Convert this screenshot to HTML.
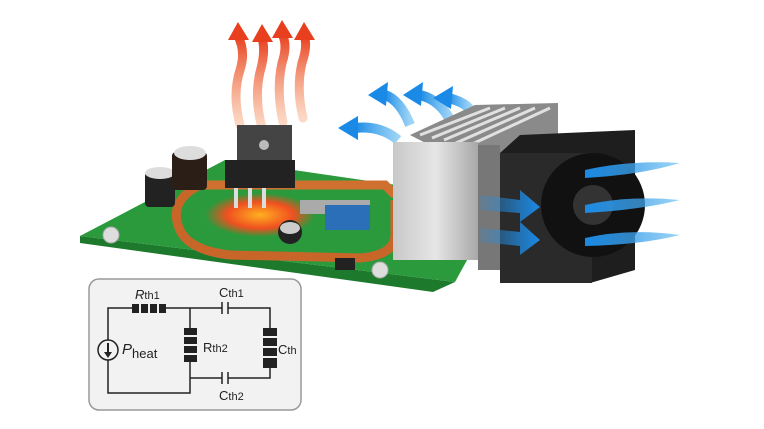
<!DOCTYPE html>
<html><head><meta charset="utf-8"><style>
html,body{margin:0;padding:0;background:#fff;}
svg{display:block;font-family:"Liberation Sans",sans-serif;}
</style></head><body>
<svg width="764" height="429" viewBox="0 0 764 429" xmlns="http://www.w3.org/2000/svg">
<defs>
<linearGradient id="hs" x1="0" x2="1"><stop offset="0" stop-color="#c8c8c8"/><stop offset=".5" stop-color="#e6e6e6"/><stop offset="1" stop-color="#a8a8a8"/></linearGradient>
<linearGradient id="bl" x1="0" x2="1"><stop offset="0" stop-color="#2a8fe0" stop-opacity=".2"/><stop offset="1" stop-color="#1a8ae6"/></linearGradient>
<linearGradient id="br" x1="0" x2="1"><stop offset="0" stop-color="#1a8ae6"/><stop offset="1" stop-color="#5ab6f0" stop-opacity=".6"/></linearGradient>
<linearGradient id="rd" x1="0" y1="1" x2="0" y2="0"><stop offset="0" stop-color="#f7a070" stop-opacity=".4"/><stop offset="1" stop-color="#e8401e"/></linearGradient>
<radialGradient id="hot" cx=".5" cy=".5" r=".5"><stop offset="0" stop-color="#ffb020"/><stop offset=".6" stop-color="#f05020"/><stop offset="1" stop-color="#f05020" stop-opacity="0"/></radialGradient>
</defs>
<!-- red heat arrows -->
<g fill="none" stroke="url(#rd)" stroke-width="9" stroke-linecap="round">
<path d="M240 125 Q232 95 240 70 Q246 52 238 36"/>
<path d="M262 128 Q254 98 260 72 Q266 52 262 38"/>
<path d="M283 122 Q276 90 282 63 Q288 45 282 34"/>
<path d="M303 118 Q296 88 302 63 Q308 45 304 36"/>
</g>
<g fill="#e8401e"><path d="M228 40 L238 22 L249 40Z"/><path d="M252 42 L262 24 L273 42Z"/><path d="M272 38 L282 20 L293 38Z"/><path d="M294 40 L304 22 L315 40Z"/></g>
<!-- blue arrows left -->
<g fill="none" stroke="url(#br)" stroke-width="10">
<path d="M385 95 Q400 100 410 125"/><path d="M420 95 Q440 100 450 120"/><path d="M448 98 Q465 102 470 110"/>
<path d="M355 128 Q380 125 398 140"/>
</g>
<g fill="#1a8ae6"><path d="M368 95 L388 82 L386 106Z"/><path d="M403 95 L423 82 L421 106Z"/><path d="M433 98 L453 86 L451 109Z"/><path d="M338 128 L358 116 L358 140Z"/></g>
<!-- PCB -->
<polygon points="80,243 433,292 455,282 80,236" fill="#1d7a2c"/>
<polygon points="80,236 225,160 500,200 455,282" fill="#2a9a3c"/>
<circle cx="111" cy="235" r="8" fill="#ddd" stroke="#aaa"/><circle cx="380" cy="270" r="8" fill="#ddd" stroke="#aaa"/>
<ellipse cx="260" cy="215" rx="55" ry="22" fill="url(#hot)"/>
<path d="M200 185 Q170 200 178 225 Q185 250 230 255 L360 258 Q395 255 395 235 L395 200" fill="none" stroke="#c8662a" stroke-width="9"/>
<path d="M200 185 L385 185 L395 195" fill="none" stroke="#d07030" stroke-width="9"/>
<rect x="300" y="200" width="70" height="14" fill="#aaa"/>
<rect x="325" y="205" width="45" height="25" fill="#2a6fb8"/>
<circle cx="290" cy="232" r="12" fill="#222"/><ellipse cx="290" cy="228" rx="10" ry="6" fill="#ccc"/>
<rect x="145" y="172" width="30" height="35" rx="4" fill="#222"/><ellipse cx="160" cy="173" rx="15" ry="6" fill="#ddd"/>
<rect x="172" y="152" width="35" height="38" rx="4" fill="#2a1e16"/><ellipse cx="190" cy="153" rx="16" ry="7" fill="#ddd"/>
<rect x="335" y="258" width="20" height="12" fill="#222"/>
<rect x="237" y="125" width="55" height="35" fill="#444"/><circle cx="264" cy="145" r="5" fill="#bbb"/>
<rect x="225" y="160" width="70" height="28" fill="#222"/>
<rect x="234" y="188" width="4" height="20" fill="#ddd"/><rect x="248" y="188" width="4" height="20" fill="#ddd"/><rect x="262" y="188" width="4" height="20" fill="#ddd"/>
<!-- heatsink fins -->
<polygon points="410,135 475,105 558,103 558,160 478,170" fill="#8a8a8a"/>
<g stroke="#e0e0e0" stroke-width="3"><line x1="420" y1="135" x2="490" y2="108"/><line x1="432" y1="138" x2="505" y2="108"/><line x1="444" y1="140" x2="520" y2="108"/><line x1="456" y1="143" x2="535" y2="108"/><line x1="468" y1="146" x2="550" y2="108"/></g>
<rect x="393" y="142" width="85" height="118" fill="url(#hs)"/>
<rect x="478" y="145" width="22" height="125" fill="#777"/>
<!-- fan -->
<polygon points="500,153 520,135 635,130 635,270 590,283 500,283" fill="#1e1e1e"/>
<rect x="500" y="153" width="92" height="130" fill="#2a2a2a"/>
<circle cx="593" cy="205" r="52" fill="#111"/>
<circle cx="593" cy="205" r="20" fill="#333"/>
<g fill="url(#bl)"><path d="M480 195 L520 200 L520 190 L540 207 L520 222 L520 213 L480 210Z"/><path d="M480 228 L520 232 L520 222 L540 240 L520 255 L520 246 L480 242Z"/></g>
<g fill="url(#br)"><path d="M585 170 Q630 160 680 163 Q640 175 585 178Z"/><path d="M585 205 Q630 195 680 200 Q640 210 585 213Z"/><path d="M585 238 Q630 228 680 235 Q640 245 585 246Z"/></g>
<!-- circuit box -->
<rect x="89" y="279" width="212" height="131" rx="10" fill="#f2f2f2" stroke="#999" stroke-width="1.5"/>
<g stroke="#222" stroke-width="1.5" fill="none">
<path d="M108 340 L108 308 L132 308"/><path d="M166 308 L222 308 M228 308 L270 308 L270 328"/>
<path d="M270 368 L270 378 L228 378 M222 378 L190 378"/>
<path d="M190 308 L190 328 M190 362 L190 393 L108 393 L108 360"/>
<path d="M222 302 L222 314 M228 302 L228 314 M222 372 L222 384 M228 372 L228 384"/>
<circle cx="108" cy="350" r="10"/>
</g>
<path d="M108 343 L108 356" stroke="#222" stroke-width="2"/><path d="M104 352 L108 358 L112 352Z" fill="#222"/>
<g fill="#222"><rect x="132" y="304" width="7" height="9"/><rect x="141" y="304" width="7" height="9"/><rect x="150" y="304" width="7" height="9"/><rect x="159" y="304" width="7" height="9"/>
<rect x="184" y="328" width="13" height="7"/><rect x="184" y="337" width="13" height="7"/><rect x="184" y="346" width="13" height="7"/><rect x="184" y="355" width="13" height="7"/>
<rect x="263" y="328" width="14" height="8"/><rect x="263" y="338" width="14" height="8"/><rect x="263" y="348" width="14" height="8"/><rect x="263" y="358" width="14" height="10"/></g>
<g fill="#222" font-size="13">
<text x="135" y="299"><tspan font-style="italic">R</tspan><tspan font-size="11">th1</tspan></text>
<text x="219" y="297">C<tspan font-size="11">th1</tspan></text>
<text x="122" y="354" font-size="15" font-style="italic">P<tspan font-size="13" dy="4" font-style="normal">heat</tspan></text>
<text x="203" y="352">R<tspan font-size="11">th2</tspan></text>
<text x="278" y="354">C<tspan font-size="11">th</tspan></text>
<text x="219" y="400">C<tspan font-size="11">th2</tspan></text>
</g>
</svg>
</body></html>
